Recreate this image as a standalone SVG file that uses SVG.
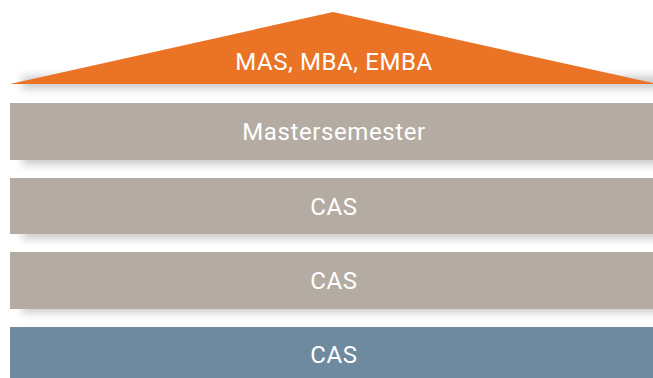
<svg xmlns="http://www.w3.org/2000/svg" width="653" height="378" viewBox="0 0 653 378">
<style>
.lbl{font-family:Roboto,"Liberation Sans",sans-serif;font-size:24px;letter-spacing:0.6px;fill:#ffffff;text-anchor:middle}
.bar{fill:#B4ACA3}
.sh{fill:#000;opacity:0.2;filter:url(#blur)}
</style>
<defs>
<filter id="blur" x="-10%" y="-100%" width="120%" height="300%"><feGaussianBlur stdDeviation="4.5"/></filter>
</defs>
<rect width="653" height="378" fill="#fff"/>
<g id="shadows">
<rect class="sh" x="22" y="76" width="640" height="13"/>
<rect class="sh" x="22" y="152" width="640" height="13"/>
<rect class="sh" x="22" y="226" width="640" height="13"/>
<rect class="sh" x="22" y="300" width="640" height="13"/>
</g>
<g id="roof">
<polygon points="10,84 333,12 657,84" fill="#EB7326"/>
<text class="lbl" x="334" y="69.5">MAS, MBA, EMBA</text>
</g>
<g id="bar1">
<rect class="bar" x="10" y="103" width="643" height="57"/>
<text class="lbl" x="334" y="140">Mastersemester</text>
</g>
<g id="bar2">
<rect class="bar" x="10" y="178" width="643" height="56"/>
<text class="lbl" x="334" y="214.5">CAS</text>
</g>
<g id="bar3">
<rect class="bar" x="10" y="252" width="643" height="57"/>
<text class="lbl" x="334" y="288.5">CAS</text>
</g>
<g id="bar4">
<rect x="10" y="327" width="643" height="51" fill="#6E8A9F"/>
<text class="lbl" x="334" y="362.5">CAS</text>
</g>
</svg>
